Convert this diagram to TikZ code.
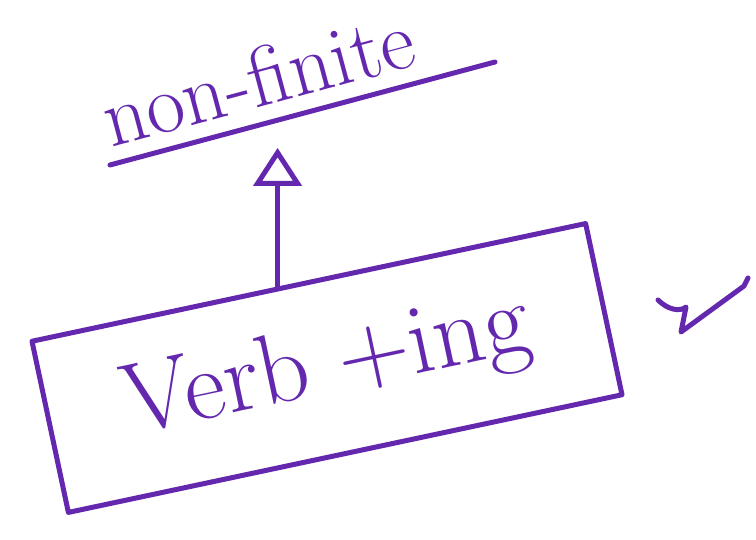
\documentclass[tikz,border=0pt]{standalone}
\usetikzlibrary{arrows.meta,calc}
\definecolor{ink}{RGB}{100,40,175}
\begin{document}
\begin{tikzpicture}[x=1pt,y=1pt,
  stroke/.style={draw=ink,line width=5pt,line cap=round,line join=round},
  handtext/.style={text=ink,font=\fontsize{#1}{#1}\selectfont,inner sep=0pt}]
\useasboundingbox (0,0) rectangle (756,540);
% label
\node[handtext=84,rotate=15] (lbl) at (258,462) {non-finite};
\coordinate (ulA) at (110,375);
\coordinate (ulB) at (495,478);
\draw[stroke] (ulA) -- (ulB);
% box
\node[stroke,rotate=12,minimum width=566pt,minimum height=175pt,handtext=100] (box) at (327,172) {Verb +ing};
% connector
\coordinate (p) at ($(box.north west)!0.445!(box.north east)$);
\coordinate (tip) at (p |- 0,392);
\draw[stroke,-{Triangle[open,length=38pt,width=48pt,line width=5pt]}] (p) -- (tip);
% squiggle mark at the right
\draw[stroke] (658,240) .. controls (668,230) and (680,228) .. (686,233)
  -- (681,208) -- (744,254) -- (748,262);
\end{tikzpicture}
\end{document}
